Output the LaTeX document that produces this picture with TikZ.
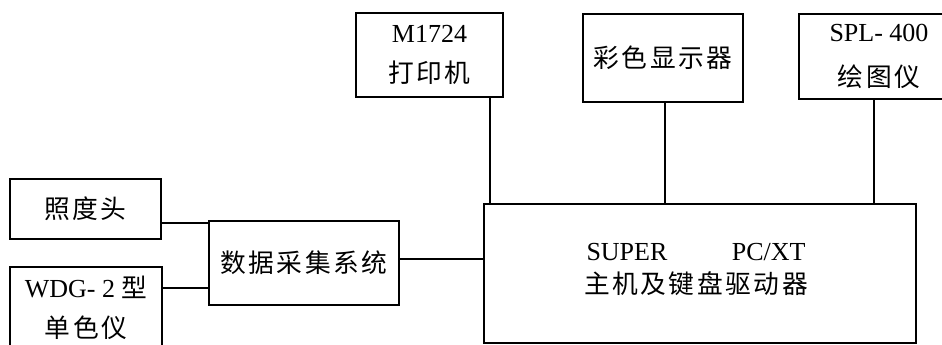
\documentclass[tikz,border=0pt]{standalone}
\usepackage{fontspec}
\setmainfont{Liberation Serif}
\newfontfamily\cjk[LetterSpace=10,Scale=0.99]{Noto Sans CJK SC}
\begin{document}
\begin{tikzpicture}[x=1pt,y=-1pt,
  box/.style={draw, line width=2pt, inner sep=0pt, align=center, font=\fontsize{26}{40}\selectfont},
  txt/.style={inner sep=0pt, align=center, font=\fontsize{26}{33}\selectfont},
  wire/.style={line width=2pt}]
\useasboundingbox (0,0) rectangle (942,345);
\clip (0,0) rectangle (942,345);
% boxes
\node[box, minimum width=151pt, minimum height=60pt] (zhao) at (85.5,209) {\cjk 照度头};
\node[box, minimum width=152pt, minimum height=81pt] (wdg) at (86,307.5) {WDG- 2 {\cjk 型}\\{\cjk 单色仪}};
\node[box, minimum width=190pt, minimum height=84pt] (data) at (304,263) {\cjk 数据采集系统};
\node[box, minimum width=432pt, minimum height=139pt] (main) at (700,273.5) {};
\node[txt] (maintext) at (696,269.5) {\makebox[219pt]{SUPER\hfill PC/XT}\\{\cjk 主机及键盘驱动器}};
\node[box, minimum width=147pt, minimum height=84pt] (prn) at (429.5,55) {M1724\\{\cjk 打印机}};
\node[box, minimum width=160pt, minimum height=88pt] (disp) at (663,58) {\cjk 彩色显示器};
\node[box, minimum width=160pt, minimum height=85pt, font=\fontsize{26}{45}\selectfont] (plot) at (879,56.5) {SPL- 400\\{\cjk 绘图仪}};
% connectors
\draw[wire] ([yshift=-14pt]zhao.east) coordinate (a1) -- (a1 -| data.west);
\draw[wire] ([yshift=19.5pt]wdg.east) coordinate (a2) -- (a2 -| data.west);
\draw[wire] ([yshift=4pt]data.east) coordinate (a3) -- (a3 -| main.west);
\draw[wire] ([xshift=60.5pt]prn.south) coordinate (b1) -- (b1 |- main.north);
\draw[wire] ([xshift=2pt]disp.south) coordinate (b2) -- (b2 |- main.north);
\draw[wire] ([xshift=-5.5pt]plot.south) coordinate (b3) -- (b3 |- main.north);
\end{tikzpicture}
\end{document}
